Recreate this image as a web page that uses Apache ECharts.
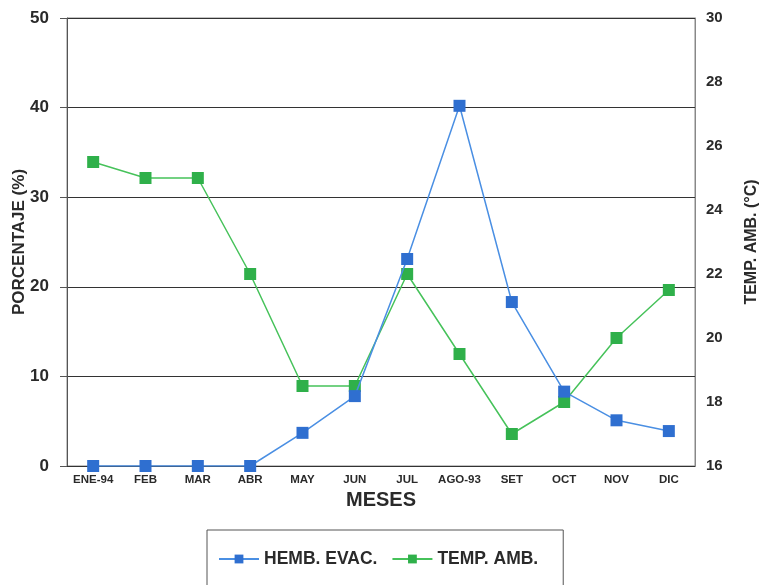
<!DOCTYPE html>
<html>
<head>
<meta charset="utf-8">
<script src="https://cdn.jsdelivr.net/npm/echarts@6/dist/echarts.min.js"></script>
<style>
  html, body { margin: 0; padding: 0; background: #ffffff; }
  #chart { width: 762px; height: 585px; }
</style>
</head>
<body>
<div id="chart"></div>
<script>
// Monthly categories
const meses = ['ENE-94', 'FEB', 'MAR', 'ABR', 'MAY', 'JUN', 'JUL', 'AGO-93', 'SET', 'OCT', 'NOV', 'DIC'];
// Percentage of evacuated females (left axis, %)
const hembEvac = [0, 0, 0, 0, 3.7, 7.8, 23.1, 40.2, 18.3, 8.3, 5.1, 3.9];
// Ambient temperature (right axis, °C)
const tempAmb = [25.5, 25.0, 25.0, 22.0, 18.5, 18.5, 22.0, 19.5, 17.0, 18.0, 20.0, 21.5];

const FONT = 'Liberation Sans, Arial, sans-serif';
const chart = echarts.init(document.getElementById('chart'));

chart.setOption({
  backgroundColor: '#ffffff',
  animation: false,
  grid: {
    left: 67, right: 67, top: 18, bottom: 119,
    outerBoundsMode: 'none',
    containLabel: false,
    show: true, borderColor: '#888', borderWidth: 1
  },
  legend: {
    bottom: -2,
    left: 207,
    padding: [20, 25, 19, 11],
    borderColor: '#555',
    borderWidth: 1,
    itemWidth: 40,
    itemHeight: 11,
    itemGap: 14,
    textStyle: { fontFamily: FONT, fontWeight: 'bold', fontSize: 17.5, color: '#2a2a2a' },
    data: ['HEMB. EVAC.', 'TEMP. AMB.']
  },
  xAxis: {
    type: 'category',
    data: meses,
    boundaryGap: true,
    name: 'MESES',
    nameLocation: 'middle',
    nameGap: 24,
    nameTextStyle: { fontFamily: FONT, fontWeight: 'bold', fontSize: 20, color: '#2a2a2a' },
    axisLine: { lineStyle: { color: '#333', width: 1 } },
    axisTick: { alignWithLabel: true, inside: true, length: 9, lineStyle: { color: '#333' } },
    axisLabel: { fontFamily: FONT, fontWeight: 'bold', fontSize: 11.5, color: '#2a2a2a', margin: 8, interval: 0 }
  },
  yAxis: [
    {
      type: 'value',
      min: 0, max: 50, interval: 10,
      name: 'PORCENTAJE (%)',
      nameLocation: 'middle',
      nameGap: 39,
      nameMoveOverlap: false,
      nameTextStyle: { fontFamily: FONT, fontWeight: 'bold', fontSize: 17, color: '#2a2a2a' },
      axisLine: { show: true, lineStyle: { color: '#555' } },
      axisTick: { show: true, length: 7, lineStyle: { color: '#555' } },
      axisLabel: { fontFamily: FONT, fontWeight: 'bold', fontSize: 17, color: '#2a2a2a', margin: 18 },
      splitLine: { show: true, lineStyle: { color: '#333', width: 1 } }
    },
    {
      type: 'value',
      min: 16, max: 30, interval: 2,
      name: 'TEMP. AMB. (°C)',
      nameLocation: 'middle',
      nameGap: 49,
      nameRotate: 90,
      nameMoveOverlap: false,
      nameTextStyle: { fontFamily: FONT, fontWeight: 'bold', fontSize: 16, color: '#2a2a2a' },
      axisLine: { show: true, lineStyle: { color: '#888' } },
      axisTick: { show: false },
      axisLabel: { fontFamily: FONT, fontWeight: 'bold', fontSize: 15, color: '#2a2a2a', margin: 11 },
      splitLine: { show: false }
    }
  ],
  series: [
    {
      name: 'HEMB. EVAC.',
      type: 'line',
      yAxisIndex: 0,
      data: hembEvac,
      symbol: 'rect',
      symbolSize: 12,
      itemStyle: { color: '#2f6fd0' },
      lineStyle: { color: '#4a8fe3', width: 1.5 },
      z: 3
    },
    {
      name: 'TEMP. AMB.',
      type: 'line',
      yAxisIndex: 1,
      data: tempAmb,
      symbol: 'rect',
      symbolSize: 12,
      itemStyle: { color: '#2fb04a' },
      lineStyle: { color: '#46c25a', width: 1.5 },
      z: 2
    }
  ]
});
</script>
</body>
</html>
